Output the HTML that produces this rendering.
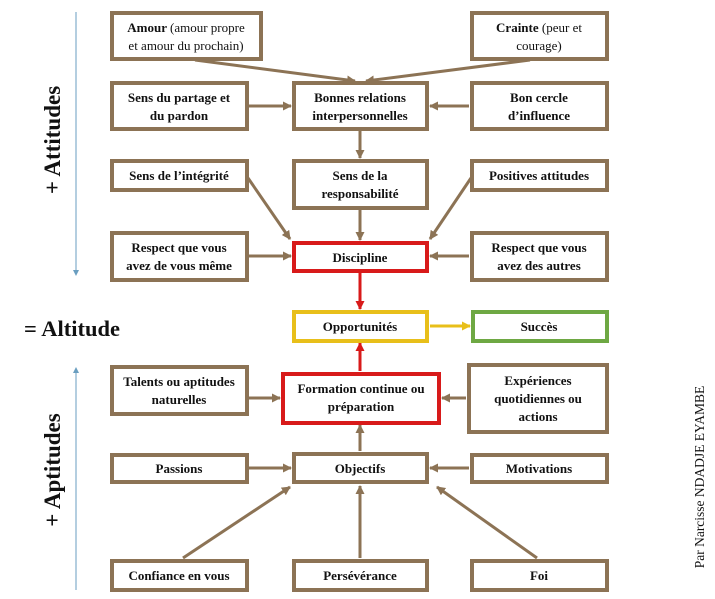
<!DOCTYPE html>
<html><head><meta charset="utf-8"><style>
body{margin:0;background:#fff;width:715px;height:599px;overflow:hidden}
svg{display:block}
text{font-family:"Liberation Serif",serif;font-weight:bold;font-size:13px;fill:#111;text-anchor:middle}
.n{font-weight:normal}
</style></head><body>
<svg width="715" height="599" viewBox="0 0 715 599">
<defs>
<marker id="b" markerWidth="9" markerHeight="9" refX="8" refY="4.5" orient="auto" markerUnits="userSpaceOnUse" viewBox="0 0 9 9"><path d="M0,0L9,4.5L0,9z" fill="#8c7355"/></marker>
<marker id="r" markerWidth="9" markerHeight="9" refX="8" refY="4.5" orient="auto" markerUnits="userSpaceOnUse" viewBox="0 0 9 9"><path d="M0,0L9,4.5L0,9z" fill="#d81a1a"/></marker>
<marker id="y" markerWidth="9" markerHeight="9" refX="8" refY="4.5" orient="auto" markerUnits="userSpaceOnUse" viewBox="0 0 9 9"><path d="M0,0L9,4.5L0,9z" fill="#e8bf1a"/></marker>
<marker id="bl" markerWidth="6" markerHeight="6" refX="5" refY="3" orient="auto" markerUnits="userSpaceOnUse" viewBox="0 0 6 6"><path d="M0,0L6,3L0,6z" fill="#6a9ec0"/></marker>
</defs>
<g stroke="#6a9ec0" stroke-width="1">
<line x1="76" y1="12" x2="76" y2="275" marker-end="url(#bl)"/>
<line x1="76" y1="590" x2="76" y2="368" marker-end="url(#bl)"/>
</g>
<text transform="translate(60,140) rotate(-90)" style="font-size:23px">+ Attitudes</text>
<text transform="translate(60,470) rotate(-90)" style="font-size:23px">+ Aptitudes</text>
<text x="72" y="336" style="font-size:22.5px">= Altitude</text>
<text transform="translate(704,477) rotate(-90)" class="n" style="font-size:13.5px">Par Narcisse NDADJE EYAMBE</text>

<g stroke="#8c7355" stroke-width="3" fill="none">
<line x1="195" y1="60" x2="355" y2="81" marker-end="url(#b)"/>
<line x1="530" y1="60" x2="366" y2="81" marker-end="url(#b)"/>
<line x1="249" y1="106" x2="291" y2="106" marker-end="url(#b)"/>
<line x1="469" y1="106" x2="430" y2="106" marker-end="url(#b)"/>
<line x1="360" y1="131" x2="360" y2="158" marker-end="url(#b)"/>
<line x1="360" y1="210" x2="360" y2="240" marker-end="url(#b)"/>
<line x1="248" y1="178" x2="290" y2="239" marker-end="url(#b)"/>
<line x1="471" y1="178" x2="430" y2="239" marker-end="url(#b)"/>
<line x1="249" y1="256" x2="291" y2="256" marker-end="url(#b)"/>
<line x1="469" y1="256" x2="430" y2="256" marker-end="url(#b)"/>
<line x1="249" y1="398" x2="280" y2="398" marker-end="url(#b)"/>
<line x1="466" y1="398" x2="442" y2="398" marker-end="url(#b)"/>
<line x1="360" y1="451" x2="360" y2="425" marker-end="url(#b)"/>
<line x1="249" y1="468" x2="291" y2="468" marker-end="url(#b)"/>
<line x1="469" y1="468" x2="430" y2="468" marker-end="url(#b)"/>
<line x1="183" y1="558" x2="290" y2="487" marker-end="url(#b)"/>
<line x1="360" y1="558" x2="360" y2="486" marker-end="url(#b)"/>
<line x1="537" y1="558" x2="437" y2="487" marker-end="url(#b)"/>
</g>
<line x1="360" y1="273" x2="360" y2="309" stroke="#d81a1a" stroke-width="3" marker-end="url(#r)"/>
<line x1="360" y1="371" x2="360" y2="343" stroke="#d81a1a" stroke-width="3" marker-end="url(#r)"/>
<line x1="430" y1="326" x2="470" y2="326" stroke="#e8bf1a" stroke-width="3" marker-end="url(#y)"/>

<g fill="#fff" stroke="#8c7355" stroke-width="4">
<rect x="112" y="13" width="149" height="46"/>
<rect x="472" y="13" width="135" height="46"/>
<rect x="112" y="83" width="135" height="46"/>
<rect x="294" y="83" width="133" height="46"/>
<rect x="472" y="83" width="135" height="46"/>
<rect x="112" y="161" width="135" height="29"/>
<rect x="294" y="161" width="133" height="47"/>
<rect x="472" y="161" width="135" height="29"/>
<rect x="112" y="233" width="135" height="47"/>
<rect x="472" y="233" width="135" height="47"/>
<rect x="112" y="367" width="135" height="47"/>
<rect x="469" y="365" width="138" height="67"/>
<rect x="112" y="455" width="135" height="27"/>
<rect x="294" y="454" width="133" height="28"/>
<rect x="472" y="455" width="135" height="27"/>
<rect x="112" y="561" width="135" height="29"/>
<rect x="294" y="561" width="133" height="29"/>
<rect x="472" y="561" width="135" height="29"/>
</g>
<rect x="294" y="243" width="133" height="28" fill="#fff" stroke="#d81a1a" stroke-width="4"/>
<rect x="283" y="374" width="156" height="49" fill="#fff" stroke="#d81a1a" stroke-width="4"/>
<rect x="294" y="312" width="133" height="29" fill="#fff" stroke="#e8bf1a" stroke-width="4"/>
<rect x="473" y="312" width="134" height="29" fill="#fff" stroke="#6ea843" stroke-width="4"/>

<text x="186" y="32">Amour <tspan class="n">(amour propre</tspan></text>
<text x="186" y="50" class="n">et amour du prochain)</text>
<text x="539" y="32">Crainte <tspan class="n">(peur et</tspan></text>
<text x="539" y="50" class="n">courage)</text>
<text x="179" y="102">Sens du partage et</text>
<text x="179" y="120">du pardon</text>
<text x="360" y="102">Bonnes relations</text>
<text x="360" y="120">interpersonnelles</text>
<text x="539" y="102">Bon cercle</text>
<text x="539" y="120">d’influence</text>
<text x="179" y="180">Sens de l’intégrité</text>
<text x="360" y="180">Sens de la</text>
<text x="360" y="198">responsabilité</text>
<text x="539" y="180">Positives attitudes</text>
<text x="179" y="252">Respect que vous</text>
<text x="179" y="270">avez de vous même</text>
<text x="360" y="262">Discipline</text>
<text x="539" y="252">Respect que vous</text>
<text x="539" y="270">avez des autres</text>
<text x="360" y="331">Opportunités</text>
<text x="539" y="331">Succès</text>
<text x="179" y="386">Talents ou aptitudes</text>
<text x="179" y="404">naturelles</text>
<text x="361" y="393">Formation continue ou</text>
<text x="361" y="411">préparation</text>
<text x="538" y="385">Expériences</text>
<text x="538" y="403">quotidiennes ou</text>
<text x="538" y="421">actions</text>
<text x="179" y="473">Passions</text>
<text x="360" y="473">Objectifs</text>
<text x="539" y="473">Motivations</text>
<text x="179" y="580">Confiance en vous</text>
<text x="360" y="580">Persévérance</text>
<text x="539" y="580">Foi</text>
</svg>
</body></html>
